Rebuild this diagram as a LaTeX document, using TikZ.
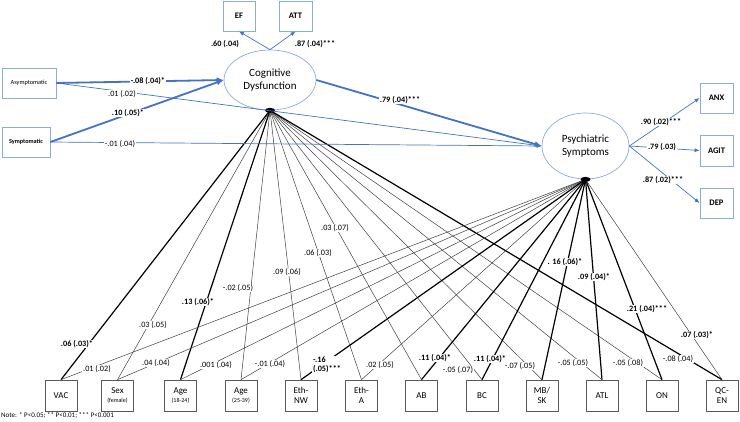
\documentclass[tikz,border=0pt]{standalone}
\usepackage{fontspec}
\setmainfont{Carlito}
\usetikzlibrary{shapes.geometric,arrows.meta}
\definecolor{lblue}{HTML}{4472C4}
\definecolor{bbord}{HTML}{8FAADC}
\tikzset{
  lat/.style={draw=bbord, ellipse, line width=0.7pt, align=center, inner sep=0pt, font=\fontsize{11}{12.5}\selectfont},
  bbox/.style={draw=bbord, line width=0.8pt, minimum width=33pt, minimum height=30pt, inner sep=0pt, font=\bfseries\fontsize{8.5}{10}\selectfont},
  sbox/.style={draw=bbord, line width=0.8pt, minimum height=30pt, inner sep=0pt, font=\fontsize{6.3}{7}\selectfont},
  obs/.style={draw=black!65, line width=0.7pt, minimum width=32pt, minimum height=31pt, inner sep=0pt, align=center, font=\fontsize{9}{10.5}\selectfont},
  barr/.style={draw=lblue, line width=0.7pt, -{Latex[length=5pt,width=4pt]}},
  bthick/.style={draw=lblue, line width=1.8pt, -{Latex[length=7pt,width=6pt]}},
  lab/.style={fill=white, inner sep=0.8pt, font=\fontsize{8.2}{9}\selectfont},
  blab/.style={fill=white, inner sep=0.8pt, align=left, font=\bfseries\fontsize{8.2}{9}\selectfont},
  thinl/.style={draw=black!75, line width=0.5pt},
  boldl/.style={draw=black, line width=1.2pt},
  small/.style={font=\fontsize{6.5}{7}\selectfont}
}
\begin{document}
\begin{tikzpicture}[x=1pt,y=-1pt]
\useasboundingbox (0,0) rectangle (740,421);
% latent variables
\node[lat, minimum width=92pt, minimum height=60pt] (cd) at (270,80) {Cognitive\\Dysfunction};
\node[lat, minimum width=87pt, minimum height=66pt] (ps) at (585.5,146) {Psychiatric\\Symptoms};
% indicators
\node[bbox, minimum width=32pt] (ef) at (239,16) {EF};
\node[bbox] (att) at (295.5,16) {ATT};
\node[bbox] (anx) at (716.5,98) {ANX};
\node[bbox, minimum height=31pt] (agit) at (716.5,150.5) {AGIT};
\node[bbox] (dep) at (716.5,203) {DEP};
% covariates left
\node[sbox, minimum width=54pt] (asym) at (29,83) {Asymptomatic};
\node[sbox, minimum width=48pt, font=\bfseries\fontsize{6.2}{7}\selectfont] (symp) at (26,142) {Symptomatic};
% bottom covariates
\node[obs] (vac) at (61,395.5) {VAC};
\node[obs] (sex) at (117.5,395.5) {Sex\\[-1pt]{\fontsize{6}{7}\selectfont(female)}};
\node[obs] (ageA) at (180.5,395.5) {Age\\[-1pt]{\fontsize{6}{7}\selectfont(18-24)}};
\node[obs] (ageB) at (241,395.5) {Age\\[-1pt]{\fontsize{6}{7}\selectfont(25-39)}};
\node[obs] (ethnw) at (301,395.5) {Eth-\\NW};
\node[obs] (etha) at (361.5,395.5) {Eth-\\A};
\node[obs] (ab) at (421.5,395.5) {AB};
\node[obs] (bc) at (482,395.5) {BC};
\node[obs] (mbsk) at (542,395.5) {MB/\\SK};
\node[obs] (atl) at (602,395.5) {ATL};
\node[obs] (on) at (662,395.5) {ON};
\node[obs] (qcen) at (722,395.5) {QC-\\EN};
% lines from cognitive dysfunction
\draw[boldl] (cd.south) -- (vac.north);
\draw[thinl] (cd.south) -- (sex.north);
\draw[boldl] (cd.south) -- (ageA.north);
\draw[thinl] (cd.south) -- (ageB.north);
\draw[thinl] (cd.south) -- (ethnw.north);
\draw[thinl] (cd.south) -- (etha.north);
\draw[thinl] (cd.south) -- (ab.north);
\draw[thinl] (cd.south) -- (bc.north);
\draw[thinl] (cd.south) -- (mbsk.north);
\draw[thinl] (cd.south) -- (atl.north);
\draw[thinl] (cd.south) -- (on.north);
\draw[boldl] (cd.south) -- (qcen.north);
% lines from psychiatric symptoms
\draw[thinl] (ps.south) -- (vac.north);
\draw[thinl] (ps.south) -- (sex.north);
\draw[thinl] (ps.south) -- (ageA.north);
\draw[thinl] (ps.south) -- (ageB.north);
\draw[boldl] (ps.south) -- (ethnw.north);
\draw[thinl] (ps.south) -- (etha.north);
\draw[boldl] (ps.south) -- (ab.north);
\draw[boldl] (ps.south) -- (bc.north);
\draw[boldl] (ps.south) -- (mbsk.north);
\draw[boldl] (ps.south) -- (atl.north);
\draw[boldl] (ps.south) -- (on.north);
\draw[thinl] (ps.south) -- (qcen.north);
\fill (cd.south) ellipse (5pt and 2.5pt);
\fill (ps.south) ellipse (5pt and 2.5pt);
% blue paths
\draw[bthick] (asym.east) -- (cd.west);
\draw[barr] (asym.east) -- (ps.west);
\draw[bthick] (symp.east) -- (cd.west);
\draw[barr] (symp.east) -- (ps.west);
\draw[bthick] (cd.east) -- (ps.west);
\draw[barr] (cd.north) -- (ef.south);
\draw[barr] (cd.north) -- (att.south);
\draw[barr] (ps.east) -- (anx.west);
\draw[barr] (ps.east) -- (agit.west);
\draw[barr] (ps.east) -- (dep.west);
% blue labels
\node[blab] (l1) at (148,81) {-.08 (.04)*};
\node[lab] (l2) at (122,94) {.01 (.02)};
\node[blab] (l3) at (128,113) {.10 (.05)*};
\node[lab] (l4) at (120,144) {-.01 (.04)};
\node[blab] (l5) at (400,100) {.79 (.04)***};
\node[blab, fill=none] (l6) at (225,44) {.60 (.04)};
\node[blab, fill=none] (l7) at (315,44) {.87 (.04)***};
\node[blab] (l8) at (661,122) {.90 (.02)***};
\node[blab] (l9) at (662,147) {.79 (.03)};
\node[blab] (l10) at (663,180) {.87 (.02)***};
% CD labels
\node[blab] (c1) at (77,344) {.06 (.03)*};
\node[lab] (c2) at (153,325) {.03 (.05)};
\node[blab] (c3) at (198,302) {.13 (.06)*};
\node[lab] (c4) at (238,288) {-.02 (.05)};
\node[lab] (c5) at (287,272) {.09 (.06)};
\node[lab] (c6) at (318,253) {.06 (.03)};
\node[lab] (c7) at (335,228) {.03 (.07)};
\node[lab] (c8) at (458,370) {-.05 (.07)};
\node[lab] (c9) at (520,366) {-.07 (.05)};
\node[lab] (c10) at (573,363) {-.05 (.05)};
\node[lab] (c11) at (628,363) {-.05 (.08)};
\node[lab] (c12) at (678,359) {-.08 (.04)};
% PS labels
\node[lab] (p1) at (97,369) {.01 (.02)};
\node[lab] (p2) at (156,363) {.04 (.04)};
\node[lab] (p3) at (216,365) {.001 (.04)};
\node[lab] (p4) at (270,364) {-.01 (.04)};
\node[blab] (p5) at (327,365) {-.16\\(.05)***};
\node[lab] (p6) at (380,365) {.02 (.05)};
\node[blab] (p7) at (435,358) {.11 (.04)*};
\node[blab] (p8) at (490,359) {.11 (.04)*};
\node[blab] (p9) at (565,262) {. 16 (.06)*};
\node[blab] (p10) at (594,277) {.09 (.04)*};
\node[blab] (p11) at (647,309) {.21 (.04)***};
\node[blab] (p12) at (697,335) {.07 (.03)*};
% note
\node[anchor=west, inner sep=0pt, font=\fontsize{7}{8}\selectfont] (note) at (1,415.5) {Note: * P<0.05; ** P<0.01; *** P<0.001};
\end{tikzpicture}
\end{document}
